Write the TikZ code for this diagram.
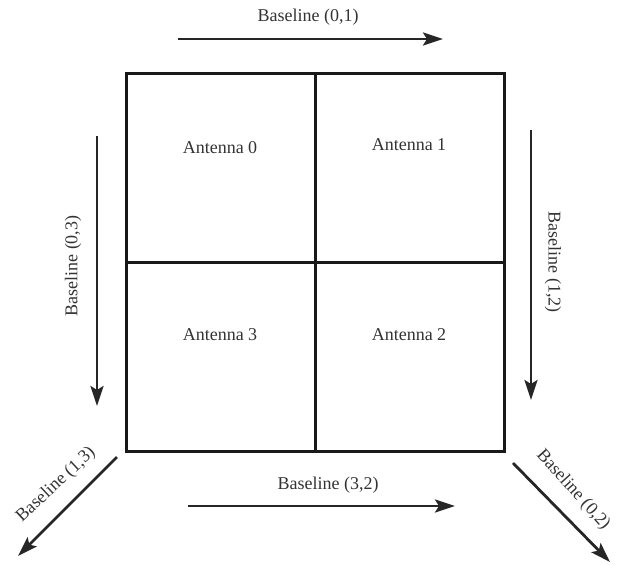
\documentclass[tikz,border=0pt]{standalone}
\usepackage{fontspec}
\setmainfont{Liberation Serif}
\usetikzlibrary{arrows.meta}
\begin{document}
\begin{tikzpicture}[x=1pt,y=-1pt,
  lbl/.style={font=\fontsize{18}{20}\selectfont, text=black!80, inner sep=0pt},
  cell/.style={draw=black!90, line width=3.2pt, minimum width=189pt, minimum height=189pt, inner sep=0pt, anchor=north west},
  barrow/.style={draw=black!85, line width=2.8pt, -{Stealth[length=20pt,width=13pt,inset=4pt]}}]
\useasboundingbox (0,0) rectangle (619,565);
% grid
\node[cell] (c0) at (125,72) {};
\node[cell] (c1) at (314,72) {};
\node[cell] (c3) at (125,261) {};
\node[cell] (c2) at (314,261) {};
\node[lbl] (a0) at (220,148) {Antenna 0};
\node[lbl] (a1) at (409,145) {Antenna 1};
\node[lbl] (a3) at (220,335) {Antenna 3};
\node[lbl] (a2) at (409,335) {Antenna 2};
% arrows
\coordinate (t1) at (178,39); \coordinate (t2) at (443,39);
\coordinate (l1) at (97,136); \coordinate (l2) at (97,406);
\coordinate (r1) at (531,130); \coordinate (r2) at (531,400);
\coordinate (b1) at (188,506); \coordinate (b2) at (455,506);
\coordinate (d1) at (117,457); \coordinate (d2) at (18,556);
\coordinate (e1) at (513,463); \coordinate (e2) at (610,562);
\draw[barrow] (t1) -- (t2);
\draw[barrow] (l1) -- (l2);
\draw[barrow] (r1) -- (r2);
\draw[barrow] (b1) -- (b2);
\draw[barrow] (d1) -- (d2);
\draw[barrow] (e1) -- (e2);
\node[lbl] (n01) at (308,17) {Baseline (0,1)};
\node[lbl, rotate=90] (n03) at (73,266) {Baseline (0,3)};
\node[lbl, rotate=-90] (n12) at (553,262) {Baseline (1,2)};
\node[lbl] (n32) at (328,485) {Baseline (3,2)};
\node[lbl, rotate=43] (n13) at (56,485) {Baseline (1,3)};
\node[lbl, rotate=-48] (n02) at (573,490) {Baseline (0,2)};
\end{tikzpicture}
\end{document}
